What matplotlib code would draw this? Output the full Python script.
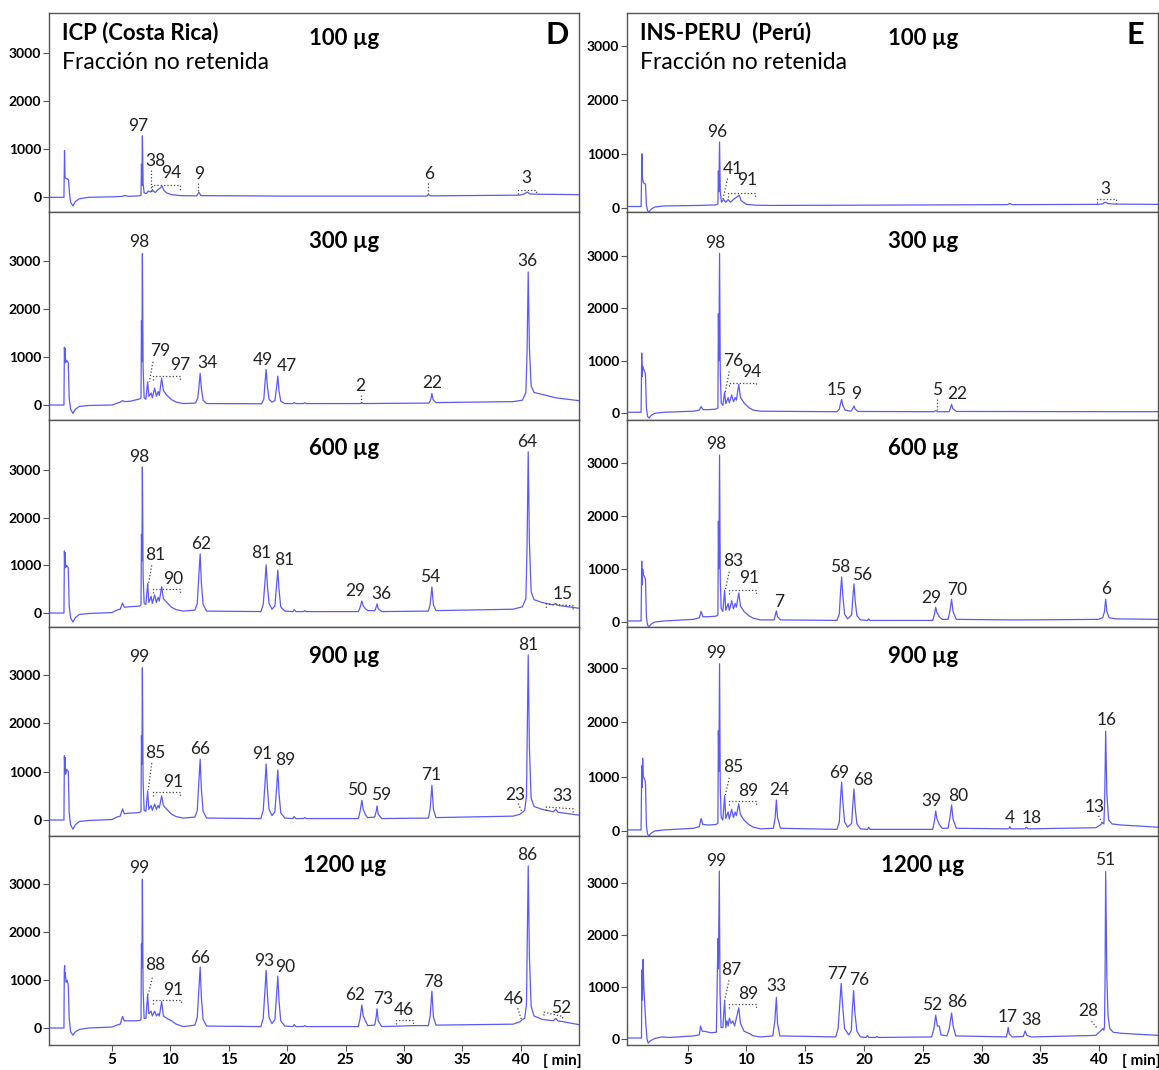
import matplotlib
matplotlib.use("Agg")
import matplotlib.pyplot as plt

plt.rcParams['font.family'] = ['Lato', 'DejaVu Sans']

# ---------------- data: chromatogram traces (time [min], signal) ----------------
L100 = [(-0.3,0),(0.88,0),(0.93,970),(0.97,430),(1.05,390),(1.2,380),(1.27,370),(1.35,100),(1.45,-100),
        (1.65,-180),(1.85,-90),(2.2,-30),(3.0,0),(5.0,10),(5.9,20),(6.1,40),(6.4,20),(7.3,30),(7.48,40),
        (7.52,690),(7.56,250),(7.6,1280),(7.66,300),(7.75,90),(7.95,80),(8.1,130),(8.3,110),(8.5,140),
        (8.7,100),(8.9,150),(9.3,230),(9.45,140),(9.7,90),(10.1,55),(10.9,35),(12.25,30),(12.45,105),
        (12.62,35),(20.0,25),(31.95,25),(32.1,60),(32.25,30),(39.9,45),(40.3,70),(40.55,110),(40.8,70),
        (41.3,65),(45,55)]
L300 = [(-0.3,0),(0.88,0),(0.92,1200),(0.95,950),(0.98,1180),(1.02,880),(1.1,930),(1.25,880),(1.33,150),
        (1.45,-90),(1.65,-175),(1.85,-90),(2.2,-30),(3.0,-10),(5.0,0),(5.7,60),(5.9,90),(6.1,70),(6.6,80),
        (7.1,110),(7.4,130),(7.48,150),(7.52,1750),(7.56,900),(7.6,3150),(7.66,800),(7.75,150),(7.9,120),
        (8.05,480),(8.15,180),(8.35,250),(8.45,150),(8.65,350),(8.8,180),(8.95,280),(9.05,200),(9.25,560),
        (9.4,300),(9.7,200),(10.1,110),(10.5,60),(11.1,30),(12.15,40),(12.35,150),(12.47,450),(12.55,660),
        (12.65,350),(12.8,100),(13.1,30),(17.8,25),(18.0,120),(18.1,450),(18.2,740),(18.3,400),(18.45,120),
        (18.7,60),(18.95,90),(19.1,380),(19.2,600),(19.3,300),(19.45,80),(19.8,30),(20.5,30),(20.6,50),
        (20.75,30),(21.4,30),(21.5,45),(21.65,30),(26.25,30),(26.4,45),(26.55,30),(32.15,40),(32.3,110),
        (32.4,240),(32.5,110),(32.75,50),(39.35,70),(40.15,100),(40.45,260),(40.55,1100),(40.65,2770),
        (40.75,1200),(40.9,400),(41.15,260),(41.85,220),(43,150),(45,90)]
L600 = [(-0.3,0),(0.88,0),(0.92,1300),(0.95,1000),(0.98,1270),(1.02,950),(1.1,1000),(1.25,950),(1.33,150),
        (1.45,-100),(1.65,-190),(1.85,-100),(2.2,-30),(3.0,-10),(5.0,10),(5.4,60),(5.7,80),(5.9,210),
        (6.05,120),(6.4,130),(7.1,140),(7.4,150),(7.48,170),(7.52,1650),(7.56,1100),(7.6,3060),(7.66,800),
        (7.75,200),(7.9,180),(8.05,620),(8.15,220),(8.35,350),(8.45,200),(8.65,380),(8.8,220),(8.95,330),
        (9.05,250),(9.25,550),(9.4,300),(9.7,220),(10.1,120),(10.5,70),(11.1,40),(12.1,60),(12.3,200),
        (12.45,850),(12.55,1240),(12.65,650),(12.8,180),(13.1,40),(17.75,30),(17.95,180),(18.1,650),
        (18.2,1010),(18.3,600),(18.45,200),(18.7,80),(18.95,150),(19.1,600),(19.2,900),(19.3,500),
        (19.45,130),(19.8,40),(20.5,30),(20.6,70),(20.75,30),(21.4,30),(21.5,50),(21.65,30),(26.1,30),
        (26.25,120),(26.4,250),(26.52,150),(26.7,90),(26.9,50),(27.5,50),(27.62,120),(27.7,190),(27.8,90),
        (28.1,30),(32.1,40),(32.25,180),(32.4,545),(32.53,170),(32.75,50),(39.35,80),(40.15,130),
        (40.45,300),(40.55,1400),(40.65,3380),(40.75,1500),(40.9,450),(41.15,280),(41.85,220),(42.8,170),
        (43.0,200),(43.2,160),(45,100)]
L900 = [(-0.3,0),(0.88,0),(0.92,1330),(0.95,1000),(0.98,1300),(1.02,950),(1.1,1050),(1.25,1000),(1.33,150),
        (1.45,-100),(1.65,-190),(1.85,-100),(2.2,-30),(3.0,-10),(5.0,10),(5.4,60),(5.7,80),(5.9,230),
        (6.05,130),(6.4,140),(7.1,150),(7.4,160),(7.48,180),(7.52,1750),(7.56,1150),(7.6,3150),(7.66,800),
        (7.75,200),(7.9,180),(8.05,600),(8.15,220),(8.35,300),(8.45,200),(8.65,330),(8.8,220),(8.95,300),
        (9.05,250),(9.25,500),(9.4,300),(9.7,220),(10.1,120),(10.5,70),(11.1,40),(12.1,60),(12.3,200),
        (12.45,850),(12.55,1260),(12.65,650),(12.8,180),(13.1,40),(17.75,30),(17.95,200),(18.1,750),
        (18.2,1160),(18.3,700),(18.45,220),(18.7,90),(18.95,170),(19.1,680),(19.2,1035),(19.3,560),
        (19.45,150),(19.8,40),(20.5,30),(20.6,70),(20.75,30),(21.4,30),(21.5,50),(21.65,30),(26.1,30),
        (26.25,180),(26.4,410),(26.52,220),(26.7,110),(26.9,50),(27.5,60),(27.62,170),(27.7,290),(27.8,120),
        (28.1,30),(32.1,40),(32.25,230),(32.4,720),(32.53,220),(32.75,50),(39.35,80),(39.95,120),
        (40.15,160),(40.35,200),(40.5,500),(40.65,3420),(40.75,1500),(40.9,450),(41.15,280),(41.85,220),
        (42.8,170),(43.0,220),(43.2,160),(45,100)]
L1200 = [(-0.3,0),(0.88,0),(0.91,1200),(0.94,1300),(0.97,1050),(1.0,1150),(1.05,950),(1.15,1000),(1.25,900),
         (1.33,200),(1.45,-80),(1.65,-150),(1.85,-80),(2.2,-30),(3.0,0),(5.0,20),(5.4,60),(5.7,80),(5.9,240),
         (6.05,150),(6.4,150),(7.1,150),(7.4,160),(7.48,180),(7.52,1750),(7.56,1250),(7.6,3100),(7.66,800),
         (7.75,200),(7.9,200),(8.05,700),(8.15,300),(8.35,350),(8.45,250),(8.65,350),(8.8,250),(8.95,300),
         (9.05,250),(9.25,550),(9.4,250),(9.7,200),(10.1,150),(10.5,80),(11.1,30),(12.1,60),(12.3,220),
         (12.45,850),(12.55,1270),(12.65,650),(12.8,180),(13.1,40),(17.75,30),(17.95,200),(18.1,780),
         (18.2,1200),(18.3,720),(18.45,220),(18.7,90),(18.95,180),(19.1,700),(19.2,1080),(19.3,580),
         (19.45,150),(19.8,40),(20.5,30),(20.6,70),(20.75,30),(21.4,30),(21.5,50),(21.65,30),(26.1,30),
         (26.25,200),(26.4,480),(26.52,250),(26.7,150),(26.9,50),(27.5,60),(27.62,220),(27.7,400),
         (27.8,150),(28.1,30),(29.7,40),(30.7,50),(32.1,50),(32.25,250),(32.4,770),(32.53,230),(32.75,60),
         (39.35,80),(39.95,130),(40.15,180),(40.35,200),(40.5,500),(40.65,3380),(40.75,1500),(40.9,450),
         (41.15,250),(41.85,180),(42.8,150),(43.0,200),(43.2,150),(45,70)]

R100 = [(0.0,20),(1.05,20),(1.12,1000),(1.16,560),(1.22,480),(1.3,450),(1.42,440),(1.5,50),(1.6,-60),
        (1.72,-80),(1.9,-30),(2.2,10),(3.0,30),(6.0,40),(7.4,50),(7.58,70),(7.62,680),(7.66,300),
        (7.72,1220),(7.78,300),(7.88,100),(8.05,150),(8.25,100),(8.45,150),(8.65,100),(8.95,160),(9.4,230),
        (9.55,130),(10.0,60),(10.8,45),(12.0,40),(20.0,45),(32.2,55),(32.4,75),(32.6,55),(39.9,60),
        (40.3,70),(40.5,100),(40.75,75),(41.3,65),(45,60)]
R300 = [(0.0,20),(1.05,20),(1.1,1150),(1.14,700),(1.18,900),(1.24,850),(1.35,800),(1.42,750),(1.5,100),
        (1.6,-60),(1.72,-90),(1.9,-40),(2.2,0),(3.0,20),(5.5,40),(6.0,60),(6.15,130),(6.3,70),(6.8,70),
        (7.4,80),(7.58,100),(7.62,1900),(7.66,1000),(7.72,3050),(7.78,800),(7.86,200),(8.0,150),(8.15,400),
        (8.25,180),(8.45,300),(8.55,200),(8.75,350),(8.9,220),(9.05,300),(9.15,250),(9.35,550),(9.5,300),
        (9.8,200),(10.2,110),(10.6,60),(11.2,40),(17.7,30),(17.9,80),(18.0,180),(18.1,265),(18.2,150),
        (18.4,60),(18.9,40),(19.05,90),(19.15,140),(19.25,80),(19.5,35),(25.95,30),(26.1,50),(26.25,30),
        (27.25,30),(27.35,100),(27.45,170),(27.55,90),(27.85,35),(45,30)]
R600 = [(0.0,20),(1.05,20),(1.1,1150),(1.14,700),(1.18,1000),(1.24,900),(1.35,850),(1.42,800),(1.5,100),
        (1.6,-60),(1.72,-90),(1.9,-40),(2.2,0),(3.0,20),(5.5,50),(6.0,80),(6.15,200),(6.3,100),(6.8,100),
        (7.4,110),(7.58,130),(7.62,1900),(7.66,1000),(7.72,3150),(7.78,800),(7.86,250),(8.0,200),(8.15,600),
        (8.25,220),(8.45,350),(8.55,220),(8.75,400),(8.9,250),(9.05,350),(9.15,280),(9.35,550),(9.5,300),
        (9.8,200),(10.2,120),(10.6,70),(11.2,40),(12.35,40),(12.45,120),(12.55,210),(12.65,100),(12.9,40),
        (17.7,30),(17.9,150),(18.0,550),(18.1,850),(18.2,500),(18.35,150),(18.6,60),(18.95,130),(19.05,450),
        (19.15,720),(19.25,400),(19.4,120),(19.7,40),(20.3,30),(20.4,60),(20.5,30),(25.85,30),(26.0,150),
        (26.1,280),(26.2,180),(26.4,100),(26.65,50),(27.15,50),(27.3,200),(27.45,430),(27.57,200),
        (27.85,50),(32.3,40),(33.8,40),(39.9,50),(40.3,80),(40.45,200),(40.55,430),(40.65,200),(40.85,80),
        (41.4,60),(45,50)]
R900 = [(0.0,20),(1.05,20),(1.1,1200),(1.14,800),(1.18,1340),(1.24,1000),(1.35,950),(1.42,900),(1.5,100),
        (1.6,-60),(1.72,-90),(1.9,-40),(2.2,0),(3.0,20),(5.5,50),(6.0,80),(6.15,230),(6.3,120),(6.8,110),
        (7.4,120),(7.58,140),(7.62,1850),(7.66,1100),(7.72,3080),(7.78,800),(7.86,250),(8.0,200),(8.15,650),
        (8.25,230),(8.45,350),(8.55,220),(8.75,400),(8.9,250),(9.05,350),(9.15,280),(9.35,500),(9.5,300),
        (9.8,200),(10.2,120),(10.6,70),(11.2,40),(12.3,50),(12.45,250),(12.55,570),(12.65,250),(12.9,50),
        (17.7,30),(17.9,160),(18.0,580),(18.1,900),(18.2,550),(18.35,170),(18.6,70),(18.95,140),(19.05,480),
        (19.15,775),(19.25,430),(19.4,130),(19.7,40),(20.3,30),(20.4,70),(20.5,30),(25.85,30),(26.0,200),
        (26.1,370),(26.2,230),(26.4,120),(26.65,50),(27.15,50),(27.3,230),(27.45,480),(27.57,220),
        (27.85,50),(32.3,40),(32.4,80),(32.5,40),(33.7,40),(33.8,70),(33.95,40),(39.7,60),(40.1,110),
        (40.3,150),(40.4,130),(40.47,600),(40.55,1840),(40.65,700),(40.8,200),(41.1,130),(41.9,110),(45,70)]
R1200 = [(0.0,20),(1.08,20),(1.12,1330),(1.16,750),(1.22,1530),(1.28,1000),(1.45,300),(1.55,0),(1.65,-80),
         (1.8,-40),(2.2,10),(2.8,40),(3.5,30),(5.5,60),(6.0,80),(6.1,250),(6.25,150),(6.4,150),(7.0,120),
         (7.45,130),(7.58,1930),(7.62,1350),(7.7,3230),(7.76,900),(7.85,220),(8.0,220),(8.15,740),(8.25,220),
         (8.35,350),(8.45,250),(8.55,400),(8.7,300),(8.85,350),(9.0,250),(9.35,600),(9.5,300),(9.8,150),
         (10.3,100),(10.6,60),(11.2,40),(12.25,60),(12.42,350),(12.55,800),(12.65,300),(12.85,60),(17.6,40),
         (17.8,200),(17.95,700),(18.06,1070),(18.18,650),(18.35,200),(18.7,80),(18.92,160),(19.02,600),
         (19.12,930),(19.22,520),(19.4,150),(19.7,40),(20.2,30),(20.3,70),(20.4,30),(21.0,30),(21.1,50),
         (21.2,30),(25.75,40),(25.95,200),(26.1,460),(26.24,250),(26.4,250),(26.55,80),(27.05,60),(27.25,200),
         (27.45,500),(27.58,250),(27.8,60),(32.1,40),(32.2,130),(32.26,225),(32.35,100),(32.6,40),(33.55,50),
         (33.7,155),(33.85,70),(34.25,40),(39.7,70),(40.1,150),(40.3,200),(40.4,170),(40.45,250),(40.5,1200),
         (40.55,3220),(40.65,1200),(40.75,450),(40.9,200),(41.2,130),(41.9,110),(45,70)]

doses = ["100 µg", "300 µg", "600 µg", "900 µg", "1200 µg"]

# peak labels: (text, time, signal at bottom of text)
lab_L = [
    [("97",7.25,1310),("38",8.7,580),("94",10.05,335),("9",12.45,315),("6",32.2,315),("3",40.45,230)],
    [("98",7.35,3220),("79",9.15,950),("97",10.85,670),("34",13.2,700),("49",17.95,775),("47",19.95,635),
     ("2",26.25,230),("22",32.4,290),("36",40.6,2820)],
    [("98",7.35,3110),("81",8.7,1050),("90",10.2,545),("62",12.6,1280),("81",17.8,1080),("81",19.75,950),
     ("29",25.85,290),("36",28.05,230),("54",32.25,580),("64",40.6,3420),("15",43.6,240)],
    [("99",7.35,3200),("85",8.7,1230),("91",10.2,620),("66",12.55,1300),("91",17.85,1200),("89",19.85,1080),
     ("50",25.95,450),("59",28.05,360),("71",32.3,760),("23",39.5,360),("81",40.65,3460),("33",43.6,330)],
    [("99",7.35,3160),("88",8.7,1150),("91",10.25,620),("66",12.55,1300),("93",18.05,1230),("90",19.85,1110),
     ("62",25.85,515),("73",28.2,445),("46",30.0,205),("78",32.5,800),("46",39.45,445),("86",40.6,3430),
     ("52",43.5,240)],
]
lab_R = [
    [("96",7.5,1260),("41",8.85,570),("91",10.1,355),("3",40.55,200)],
    [("98",7.35,3100),("76",8.85,850),("94",10.4,630),("15",17.7,300),("9",19.3,215),("5",26.25,300),
     ("22",27.95,210)],
    [("98",7.4,3200),("83",8.85,1000),("91",10.2,680),("7",12.8,230),("58",18.0,880),("56",19.85,740),
     ("29",25.75,300),("70",27.95,450),("6",40.55,470)],
    [("99",7.4,3130),("85",8.9,1030),("89",10.2,590),("24",12.8,600),("69",17.9,930),("68",19.95,800),
     ("39",25.75,400),("80",28.05,500),("4",32.4,100),("18",34.3,100),("13",39.65,300),("16",40.6,1900)],
    [("99",7.4,3265),("87",8.75,1180),("89",10.15,710),("33",12.55,860),("77",17.7,1100),("76",19.55,990),
     ("52",25.75,500),("86",27.95,550),("17",32.2,270),("38",34.2,210),("28",39.05,377),("51",40.5,3280)],
]
# dotted leaders: (t0, y0, t1, y1)
lead_L = [
    [(8.3,560,8.3,100),(12.4,300,12.4,110),(32.1,290,32.1,50)],
    [(8.5,900,8.2,480),(26.35,210,26.35,50)],
    [(8.4,1000,8.1,580)],
    [(8.4,1180,8.1,620),(39.8,340,40.1,170)],
    [(8.45,1050,8.1,700),(39.75,410,40.05,190)],
]
lead_R = [
    [(8.4,540,8.0,150)],
    [(8.55,800,8.2,400),(26.2,280,26.2,60)],
    [(8.55,950,8.2,600)],
    [(8.55,980,8.2,650),(39.95,280,40.25,150)],
    [(8.52,1130,8.15,740),(39.35,340,39.85,200)],
]
# dotted brackets: (t0, t1, y at t0, y at t1, drop of the ends)
brk_L = [
    [(8.45,10.85,250,250,90),(39.8,41.35,160,160,100)],
    [(8.5,10.8,610,610,80)],
    [(8.5,10.85,500,500,80),(42.2,44.5,190,150,80)],
    [(8.5,10.85,580,580,80),(42.2,44.5,270,230,80)],
    [(8.55,10.9,580,580,70),(29.3,30.8,160,160,80),(42.0,43.6,330,240,70)],
]
brk_R = [
    [(8.45,10.7,270,270,70),(39.85,41.4,155,155,65)],
    [(8.5,10.85,580,580,60)],
    [(8.5,10.85,600,600,70)],
    [(8.5,10.85,550,550,70)],
    [(8.52,10.78,680,680,80)],
]

ylims_L = [(-306,3840),(-312,4015),(-293,4046),(-331,3995),(-354,4000)]
ylims_R = [(-82,3618),(-128,3840),(-94,3811),(-92,3757),(-115,3904)]

# ---------------- layout ----------------
W, H = 1159, 1070
fig = plt.figure(figsize=(W/100, H/100), dpi=100)
rows = [13, 212, 420, 627, 836, 1045]
cols = [(49, 579, (-0.4, 45)), (627, 1158, (-0.15, 45))]
line_c = '#5a5af7'
spine_c = '#555555'

col_data = [([L100, L300, L600, L900, L1200], lab_L, lead_L, brk_L, ylims_L,
             "ICP (Costa Rica)", "D"),
            ([R100, R300, R600, R900, R1200], lab_R, lead_R, brk_R, ylims_R,
             "INS-PERU  (Perú)", "E")]

for (x0, x1, xl), (traces, labs, leads, brks, ylims, head, letter) in zip(cols, col_data):
    for i in range(5):
        top, bot = rows[i], rows[i + 1]
        ax = fig.add_axes([x0 / W, 1 - bot / H, (x1 - x0) / W, (bot - top) / H])
        t = [p[0] for p in traces[i]]
        s = [p[1] for p in traces[i]]
        ax.plot(t, s, color=line_c, lw=0.9)
        ax.set_xlim(*xl)
        ax.set_ylim(*ylims[i])
        for sp in ax.spines.values():
            sp.set_color(spine_c)
            sp.set_linewidth(1.0)
        ax.set_yticks([0, 1000, 2000, 3000])
        ax.tick_params(axis='y', length=4, width=0.8, color=spine_c, pad=1.5,
                       labelsize=10)
        for lb in ax.get_yticklabels():
            lb.set_fontweight('bold')
        if i == 4:
            ax.set_xticks([5, 10, 15, 20, 25, 30, 35, 40])
            ax.tick_params(axis='x', length=4, width=0.8, color=spine_c, pad=2,
                           labelsize=11)
            for lb in ax.get_xticklabels():
                lb.set_fontweight('bold')
            ax.annotate("[ min]", xy=(43.6, 0), xycoords=('data', 'axes fraction'),
                        xytext=(0, -6.5), textcoords='offset points', ha='center',
                        va='top', fontsize=11, fontweight='bold')
        else:
            ax.set_xticks([])

        for txt, tx, ty in labs[i]:
            ax.text(tx, ty, txt, ha='center', va='bottom', fontsize=12.5, color='#222222')
        for a, b, c, d in leads[i]:
            ax.plot([a, c], [b, d], ls=':', color='#444444', lw=0.9)
        for a, b, ya, yb, dr in brks[i]:
            ax.plot([a, a, b, b], [ya - dr, ya, yb, yb - dr], ls=':', color='#444444', lw=0.9)

        ax.text(0.557, 0.87 if i == 0 else 0.86, doses[i], transform=ax.transAxes,
                ha='center', va='center', fontsize=16, fontweight='bold')
        if i == 0:
            ax.text(0.025, 0.90, head, transform=ax.transAxes, ha='left', va='center',
                    fontsize=16, fontweight='bold')
            ax.text(0.025, 0.75, "Fracción no retenida", transform=ax.transAxes,
                    ha='left', va='center', fontsize=16.5)
            ax.text(0.958, 0.89, letter, transform=ax.transAxes, ha='center',
                    va='center', fontsize=22, fontweight='bold')

fig.savefig("out.png", dpi=100)
